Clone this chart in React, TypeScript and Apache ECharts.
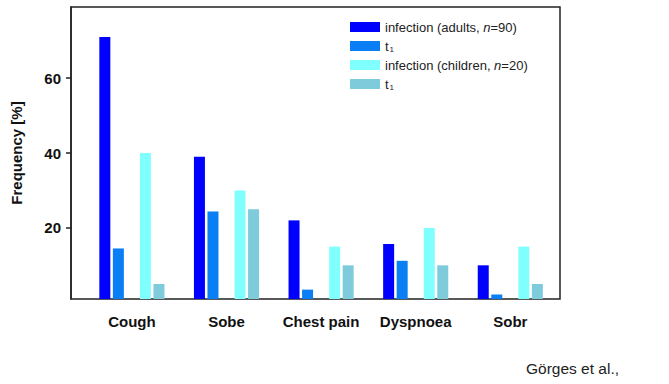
import React, { useEffect, useRef } from "react";
import * as echarts from "echarts";

// Symptom categories and bar values (frequency in %)
const categories = ["Cough", "Sobe", "Chest pain", "Dyspnoea", "Sobr"];
const adultsInfection = [71, 39, 22, 15.7, 10];
const adultsT1 = [14.5, 24.4, 3.5, 11.2, 2.2];
const childrenInfection = [40, 30, 15, 20, 15];
const childrenT1 = [5, 25, 10, 10, 5];

const seriesNames = [
  "infection (adults, n=90)",
  "t1 (adults)",
  "infection (children, n=20)",
  "t1 (children)",
];
const legendRich: Record<string, string> = {
  "infection (adults, n=90)": "infection (adults, {i|n}=90)",
  "t1 (adults)": "t{s|1}",
  "infection (children, n=20)": "infection (children, {i|n}=20)",
  "t1 (children)": "t{s|1}",
};
const yTicks = [20, 40, 60];
const colors = ["#0000ff", "#0a7ff5", "#80ffff", "#7ecbdc"];

const FONT = "'Liberation Sans', Arial, sans-serif";
const Y_MIN = 1;
const Y_MAX = 79;

export default function App() {
  const ref = useRef<HTMLDivElement>(null);

  useEffect(() => {
    if (!ref.current) return;
    const chart = echarts.init(ref.current, null, { renderer: "svg" });

    const bar = (name: string, data: (number | string)[], color: string) => ({
      name,
      type: "bar",
      xAxisIndex: 1,
      yAxisIndex: 1,
      data,
      barWidth: 11,
      barGap: "23%",
      itemStyle: { color },
    });

    chart.setOption({
      animation: false,
      backgroundColor: "#ffffff",
      textStyle: { fontFamily: FONT },
      grid: [
        // plot frame with the value axis
        {
          left: 71,
          top: 7,
          width: 489,
          height: 292,
          show: true,
          borderColor: "#222",
          borderWidth: 1.5,
          backgroundColor: "transparent",
        },
        // bar area
        { left: 84.6, top: 7, width: 473, height: 292 },
      ],
      xAxis: [
        { gridIndex: 0, type: "value", show: false, min: 0, max: 1 },
        {
          gridIndex: 1,
          type: "category",
          data: categories,
          axisLine: { show: false },
          axisTick: { show: false },
          axisLabel: {
            interval: 0,
            hideOverlap: false,
            margin: 15,
            fontFamily: FONT,
            fontWeight: "bold",
            fontSize: 15,
            color: "#111",
          },
        },
      ],
      yAxis: [
        {
          gridIndex: 0,
          type: "value",
          min: Y_MIN,
          max: Y_MAX,
          name: "Frequency [%]",
          nameLocation: "middle",
          nameGap: 47,
          nameTextStyle: {
            fontFamily: FONT,
            fontWeight: "bold",
            fontSize: 15,
            color: "#111",
          },
          splitLine: { show: false },
          axisLine: { show: true, lineStyle: { color: "#222", width: 1.5 } },
          axisTick: {
            show: true,
            length: 5,
            customValues: yTicks,
            lineStyle: { color: "#222", width: 1.5 },
          },
          axisLabel: {
            margin: 10,
            customValues: yTicks,
            fontFamily: FONT,
            fontWeight: "bold",
            fontSize: 15,
            color: "#111",
          },
        },
        {
          gridIndex: 1,
          type: "value",
          min: Y_MIN,
          max: Y_MAX,
          show: false,
          splitLine: { show: false },
        },
      ],
      legend: {
        data: seriesNames,
        orient: "vertical",
        left: 345,
        top: 15,
        itemWidth: 30,
        itemHeight: 10,
        itemGap: 5,
        icon: "rect",
        formatter: (name: string) => legendRich[name] ?? name,
        textStyle: {
          fontFamily: FONT,
          fontSize: 13,
          lineHeight: 14,
          color: "#222",
          rich: {
            i: {
              fontFamily: FONT,
              fontSize: 13,
              lineHeight: 14,
              fontStyle: "italic",
              color: "#222",
            },
            s: {
              fontFamily: FONT,
              fontSize: 8,
              lineHeight: 10,
              verticalAlign: "bottom",
              color: "#222",
              padding: [0, 0, 0, 1],
            },
          },
        },
      },
      graphic: [
        {
          type: "text",
          right: 50,
          top: 360,
          style: {
            text: "Görges et al.,",
            font: `15.5px ${FONT}`,
            fill: "#222",
          },
        },
      ],
      series: [
        bar(seriesNames[0], adultsInfection, colors[0]),
        bar(seriesNames[1], adultsT1, colors[1]),
        bar("spacer", ["-", "-", "-", "-", "-"], "transparent"),
        bar(seriesNames[2], childrenInfection, colors[2]),
        bar(seriesNames[3], childrenT1, colors[3]),
      ],
    });

    return () => chart.dispose();
  }, []);

  return (
    <div
      ref={ref}
      style={{ position: "fixed", left: 0, top: 0, width: 669, height: 384 }}
    />
  );
}
